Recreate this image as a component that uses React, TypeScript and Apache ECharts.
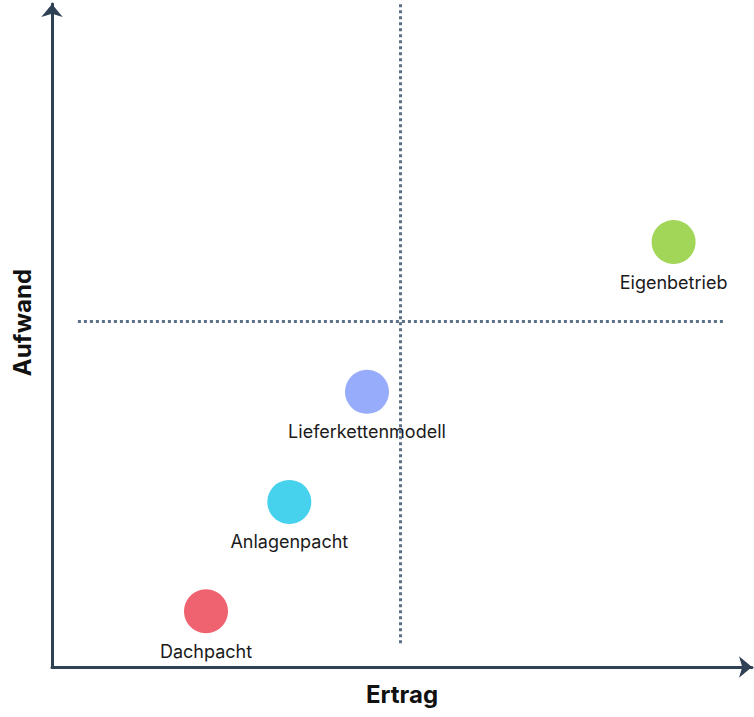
import React, { useEffect, useRef } from "react";
import * as echarts from "echarts";

const models = ["Dachpacht", "Anlagenpacht", "Lieferkettenmodell", "Eigenbetrieb"];
const ertrag = [2.2, 3.39, 4.5, 8.88];
const aufwand = [0.84, 2.49, 4.15, 6.41];
const colors = ["#EF6370", "#46D1EC", "#98ACFC", "#A1D658"];
const divideX = 4.97;
const divideY = 5.22;

export default function App() {
  const ref = useRef<HTMLDivElement>(null);
  useEffect(() => {
    if (!ref.current) return;
    const chart = echarts.init(ref.current, null, { renderer: "svg" });
    const axisColor = "#2F4154";
    const dash = { color: "#5B6F86", width: 3, type: [3, 3] as any };
    chart.setOption({
      animation: false,
      grid: { left: 52, right: 2, top: 4, bottom: 50, outerBoundsMode: "none", containLabel: false },
      xAxis: {
        type: "value",
        min: 0,
        max: 10,
        name: "Ertrag",
        nameLocation: "middle",
        nameGap: 15,
        nameTextStyle: { fontSize: 24, fontWeight: "bold", color: "#111", fontFamily: "Inter", padding: [0, 0, 0, 0] },
        axisLine: { show: true, symbol: ["none", "arrow"], symbolSize: [16, 13], lineStyle: { color: axisColor, width: 3 } },
        axisTick: { show: false },
        axisLabel: { show: false },
        splitLine: { show: false },
      },
      yAxis: {
        type: "value",
        min: 0,
        max: 10,
        name: "Aufwand",
        nameLocation: "middle",
        nameGap: 18,
        nameRotate: 90,
        nameTextStyle: { fontSize: 24, fontWeight: "bold", color: "#111", fontFamily: "Inter", padding: [0, 0, 0, 26] },
        axisLine: { show: true, symbol: ["none", "arrow"], symbolSize: [16, 13], lineStyle: { color: axisColor, width: 3 } },
        axisTick: { show: false },
        axisLabel: { show: false },
        splitLine: { show: false },
      },
      series: [
        {
          type: "scatter",
          clip: false,
          symbolSize: 44,
          data: models.map((m, i) => ({
            name: m,
            value: [ertrag[i], aufwand[i]],
            itemStyle: { color: colors[i], opacity: 1 },
          })),
          label: {
            show: true,
            position: "bottom",
            distance: 9,
            formatter: "{b}",
            fontSize: 18,
            color: "#1a1a1a",
            fontFamily: "Inter",
          },
          markLine: {
            silent: true,
            symbol: ["none", "none"],
            label: { show: false },
            lineStyle: dash,
            data: [
              [{ coord: [divideX, 0.36] }, { coord: [divideX, 10] }],
              [{ coord: [0.37, divideY] }, { coord: [9.59, divideY] }],
            ],
          },
        },
      ],
    });
    return () => chart.dispose();
  }, []);
  return <div ref={ref} style={{ width: 754, height: 717, position: "absolute", left: 0, top: 0 }} />;
}
